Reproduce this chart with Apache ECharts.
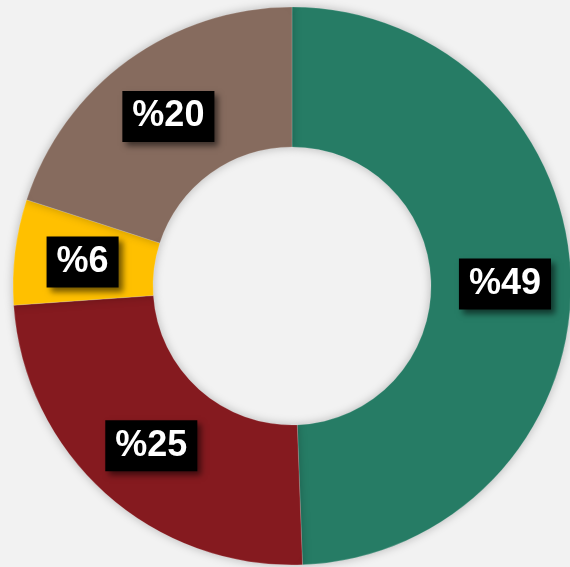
<!DOCTYPE html>
<html>
<head>
<meta charset="utf-8">
<script src="https://cdn.jsdelivr.net/npm/echarts@6/dist/echarts.min.js"></script>
<style>
  html, body { margin: 0; padding: 0; background: #f2f2f2; }
  #chart { width: 570px; height: 567px; }
</style>
</head>
<body>
<div id="chart"></div>
<script>
// slice data, clockwise from 12 o'clock (labels show rounded percents)
var names = ['A', 'B', 'C', 'D'];
var values = [49.4, 24.5, 6.1, 20.0];
var colors = ['#267c65', '#851a1f', '#ffc000', '#866b5e'];

var chart = echarts.init(document.getElementById('chart'));

var data = values.map(function (v, i) {
  return { name: names[i], value: v, itemStyle: { color: colors[i] } };
});

chart.setOption({
  backgroundColor: '#f2f2f2',
  animation: false,
  series: [
    {
      type: 'pie',
      center: [292, 286],
      radius: [139, 279],
      startAngle: 90,
      clockwise: true,
      avoidLabelOverlap: false,
      itemStyle: {
        borderColor: 'rgba(255,255,255,0.35)',
        borderWidth: 0.5,
        shadowColor: 'rgba(0,0,0,0.25)',
        shadowBlur: 10
      },
      label: {
        show: true,
        position: 'inside',
        formatter: function (p) { return '%' + Math.round(p.value); },
        color: '#fff',
        fontFamily: 'Liberation Sans, Arial, sans-serif',
        fontWeight: 'bold',
        fontSize: 36,
        lineHeight: 38,
        backgroundColor: '#000',
        padding: [7, 10, 6, 10],
        offset: [1, 2],
        shadowColor: 'rgba(0,0,0,0.55)',
        shadowBlur: 6,
        shadowOffsetX: 4,
        shadowOffsetY: 4
      },
      labelLine: { show: false },
      data: data
    }
  ]
});
</script>
</body>
</html>
